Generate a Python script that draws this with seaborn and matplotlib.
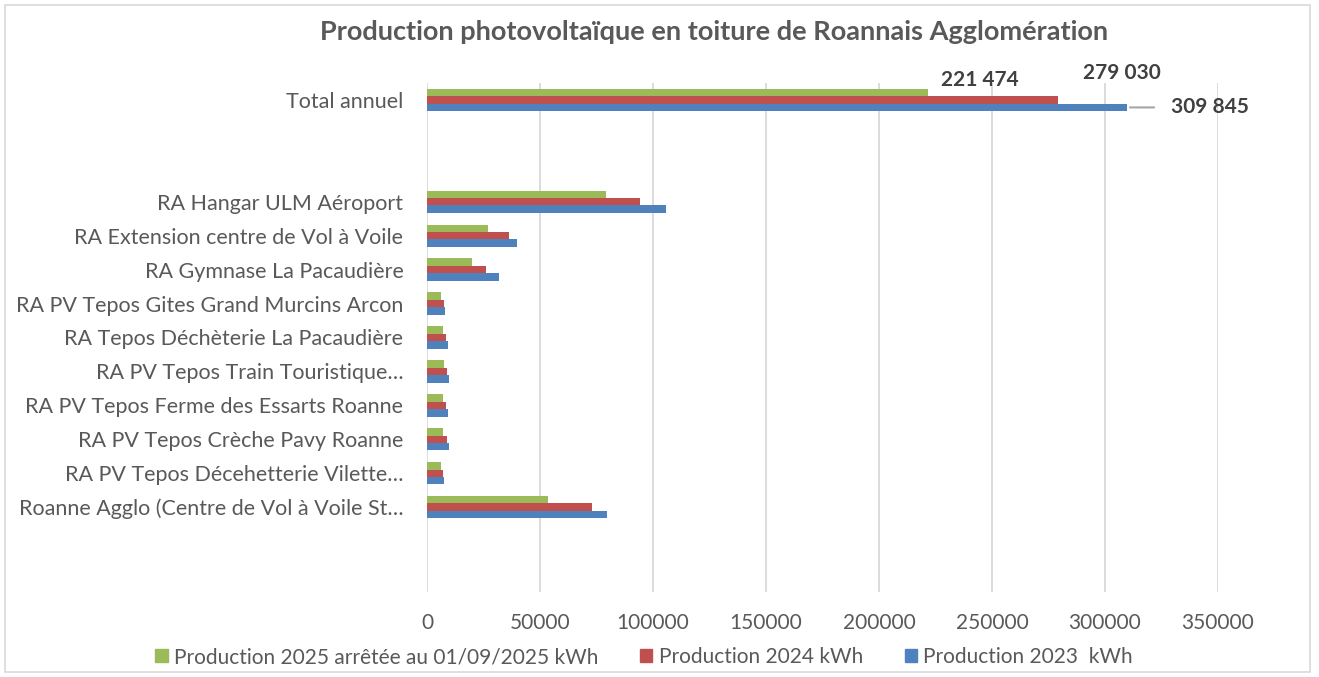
import matplotlib
matplotlib.use("Agg")
import matplotlib.pyplot as plt
import seaborn as sns
import pandas as pd
from matplotlib.patches import Rectangle

# Données (kWh)
sites = [
    "Total annuel",
    "RA Hangar ULM Aéroport",
    "RA Extension centre de Vol à Voile",
    "RA Gymnase La Pacaudière",
    "RA PV Tepos Gites Grand Murcins Arcon",
    "RA Tepos Déchèterie La Pacaudière",
    "RA PV Tepos Train Touristique…",
    "RA PV Tepos Ferme des Essarts Roanne",
    "RA PV Tepos Crèche Pavy Roanne",
    "RA PV Tepos Décehetterie Vilette…",
    "Roanne Agglo (Centre de Vol à Voile St…",
]
prod_2025 = [221474, 79000, 27100, 19900, 6200, 6900, 7400, 7100, 7200, 6300, 53400]
prod_2024 = [279030, 94300, 36100, 26100, 7400, 8400, 8800, 8500, 8700, 7200, 73000]
prod_2023 = [309845, 105600, 39700, 31700, 8100, 9300, 9600, 9200, 9600, 7500, 79500]

series = [
    "Production 2025 arrêtée au 01/09/2025 kWh",
    "Production 2024 kWh",
    "Production 2023  kWh",
]
couleurs = ["#9BBB59", "#C0504D", "#4F81BD"]

# lignes vides du tableau Excel
ordre = [sites[0], " ", "  "] + sites[1:] + ["   ", "    "]

df = pd.DataFrame({
    "site": sites * 3,
    "serie": [series[0]] * len(sites) + [series[1]] * len(sites) + [series[2]] * len(sites),
    "kwh": prod_2025 + prod_2024 + prod_2023,
})

sns.set_style("white")
plt.rcParams["font.family"] = ["Lato", "DejaVu Sans"]

fig = plt.figure(figsize=(13.19, 6.77), dpi=100)
ax = fig.add_axes([427 / 1319, 1 - 592 / 677, (1218 - 427) / 1319, (592 - 83) / 677])

sns.barplot(data=df, y="site", x="kwh", hue="serie", order=ordre,
            hue_order=series, palette=couleurs, width=0.66, orient="h",
            saturation=1, linewidth=0, ax=ax, legend=True)

ax.set_xlim(0, 350000)
ax.set_xticks(range(0, 350001, 50000))
ax.grid(axis="x", color="#D9D9D9", linewidth=1.3)
ax.grid(axis="y", visible=False)
ax.set_axisbelow(True)
for s in ax.spines.values():
    s.set_visible(False)
ax.set_xlabel("")
ax.set_ylabel("")
ax.tick_params(axis="x", length=0, pad=15, labelsize=15, labelcolor="#595959")
ax.tick_params(axis="y", length=0, pad=17, labelsize=15.5, labelcolor="#595959")

# étiquettes du total annuel
decalages = [(52, 13), (64, 27), (83, 0)]
for i, (cont, (dx, dy)) in enumerate(zip(ax.containers, decalages)):
    barre = max(cont, key=lambda p: p.get_width())
    val = barre.get_width()
    yc = barre.get_y() + barre.get_height() / 2
    txt = f"{int(val):,}".replace(",", " ")
    fleche = None
    if i == 2:
        fleche = dict(arrowstyle="-", color="#A6A6A6", lw=1.5,
                      shrinkA=10, shrinkB=2, relpos=(0, 0.5))
    ax.annotate(txt, xy=(val, yc), xytext=(dx, dy), textcoords="offset pixels",
                ha="center", va="center", fontsize=15, fontweight="bold", color="#404040",
                arrowprops=fleche)

ax.get_legend().remove()
handles = [Rectangle((0, 0), 1, 1, color=c) for c in couleurs]
fig.legend(handles, series, loc="center", bbox_to_anchor=(644 / 1319, 1 - 657 / 677),
           ncol=3, frameon=False, fontsize=15, handlelength=0.6, handleheight=0.6,
           handletextpad=0.3, columnspacing=2.0, labelcolor="#595959")

fig.text(714 / 1319, 1 - 32 / 677, "Production photovoltaïque en toiture de Roannais Agglomération",
         ha="center", va="center", fontsize=19.5, fontweight="bold", color="#595959")

fig.add_artist(Rectangle((5 / 1319, 5 / 677), 1305 / 1319, 667 / 677, transform=fig.transFigure,
                         fill=False, edgecolor="#D9D9D9", linewidth=1.2))

fig.savefig("out.png", dpi=100)
